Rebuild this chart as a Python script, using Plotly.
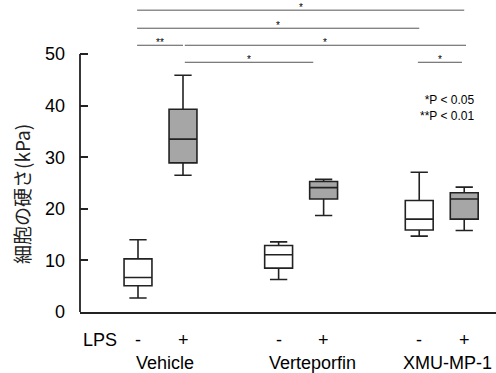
import plotly.graph_objects as go

# ---- data ----
groups = ["Vehicle", "Verteporfin", "XMU-MP-1"]
lps = ["-", "+"]
lower = [2.7, 26.5, 6.3, 18.7, 14.7, 15.8]
q1 = [5.1, 28.9, 8.5, 21.9, 15.9, 18.0]
median = [6.7, 33.5, 11.1, 24.1, 18.0, 21.9]
q3 = [10.3, 39.3, 12.9, 25.3, 21.6, 23.1]
upper = [14.0, 45.9, 13.6, 25.7, 27.1, 24.2]
# significance brackets: (start box, end box, level, label)
sig_start = [0, 0, 0, 1, 1, 4]
sig_end = [5, 4, 1, 5, 3, 5]
sig_level = [58.5, 55.0, 51.7, 51.7, 48.4, 48.4]
sig_label = ["*", "*", "**", "*", "*", "*"]
y_ticks = [0, 10, 20, 30, 40, 50]

GROUP_GAP = 3.125
pos = [g * GROUP_GAP + k for g in range(len(groups)) for k in range(len(lps))]
fills = ["white", "#a6a6a6"] * len(groups)
LINE = "#222222"
FONT = "Liberation Sans, Arial, sans-serif"

fig = go.Figure()
for i in range(len(pos)):
    fig.add_trace(go.Box(
        x=[pos[i]], q1=[q1[i]], median=[median[i]], q3=[q3[i]],
        lowerfence=[lower[i]], upperfence=[upper[i]],
        width=0.62, whiskerwidth=0.62, fillcolor=fills[i],
        line=dict(color=LINE, width=1.6), boxpoints=False,
        showlegend=False, hoverinfo="skip"))

shapes = [dict(type="line", xref="paper", yref="y", x0=0, x1=0, y0=0, y1=50,
               line=dict(color=LINE, width=1.8))]
ann = []
for s, e, lv, lb in zip(sig_start, sig_end, sig_level, sig_label):
    x0 = pos[s] - (0.02 if s == 0 else -0.04)
    x1 = pos[e]
    if (s, e) == (1, 3):
        x1 = pos[e] - 0.23
    if (s, e) == (4, 5):
        x0, x1 = pos[s] - 0.03, pos[e] - 0.05
    if (s, e) == (1, 5):
        x1 = pos[e] + 0.04
    shapes.append(dict(type="line", xref="x", yref="y", x0=x0, x1=x1, y0=lv, y1=lv,
                       line=dict(color="#555555", width=1)))
    ann.append(dict(x=(x0 + x1) / 2, y=lv, xref="x", yref="y", text=lb, showarrow=False,
                    yanchor="bottom", yshift=-5, font=dict(size=10, color="#000000", family=FONT)))

# x labels (paper coordinates below the plot area)
ann.append(dict(x=-1.27, y=-0.0897, xref="x", yref="paper", text="LPS", showarrow=False,
                xanchor="left", yanchor="middle", font=dict(size=18, color="black", family=FONT)))
for i, p in enumerate(pos):
    ann.append(dict(x=p, y=-0.0897, xref="x", yref="paper", text=lps[i % 2], showarrow=False,
                    yanchor="middle", font=dict(size=18, color="black", family=FONT)))
label_x = [0.59, 3.87, 6.88]
for g, lx in zip(groups, label_x):
    ann.append(dict(x=lx, y=-0.1635, xref="x", yref="paper", text=g, showarrow=False,
                    yanchor="middle", font=dict(size=18, color="black", family=FONT)))
# p legend
ann.append(dict(x=7.52, y=39.6, xref="x", yref="y", text="*P < 0.05<br>**P < 0.01",
                showarrow=False, xanchor="right", align="right", yanchor="middle",
                font=dict(size=12, color="black", family=FONT)))
# y title
ann.append(dict(x=-0.139, y=22.9, xref="paper", yref="y", text="細胞の硬さ(kPa)",
                textangle=-90, showarrow=False, xanchor="center", yanchor="middle",
                font=dict(size=19, color="#222222", family="Noto Sans CJK JP")))

fig.update_layout(
    width=496, height=373, margin=dict(l=80, r=0, t=0, b=61, autoexpand=False),
    plot_bgcolor="white", paper_bgcolor="white",
    shapes=shapes, annotations=ann,
    xaxis=dict(range=[-1.289, 7.956], showgrid=False, zeroline=False, showticklabels=False,
               ticks="", showline=True, linecolor=LINE, linewidth=2),
    yaxis=dict(range=[0, 60.47], showgrid=False, zeroline=False, showline=False,
               tickvals=y_ticks, ticks="inside", ticklen=8, tickwidth=1.6, tickcolor=LINE,
               ticklabelstandoff=14,
               tickfont=dict(size=18, color="black", family=FONT)),
)
fig.write_html("out.html", config={"displayModeBar": False},
               post_script="document.body.style.margin='0px';")
